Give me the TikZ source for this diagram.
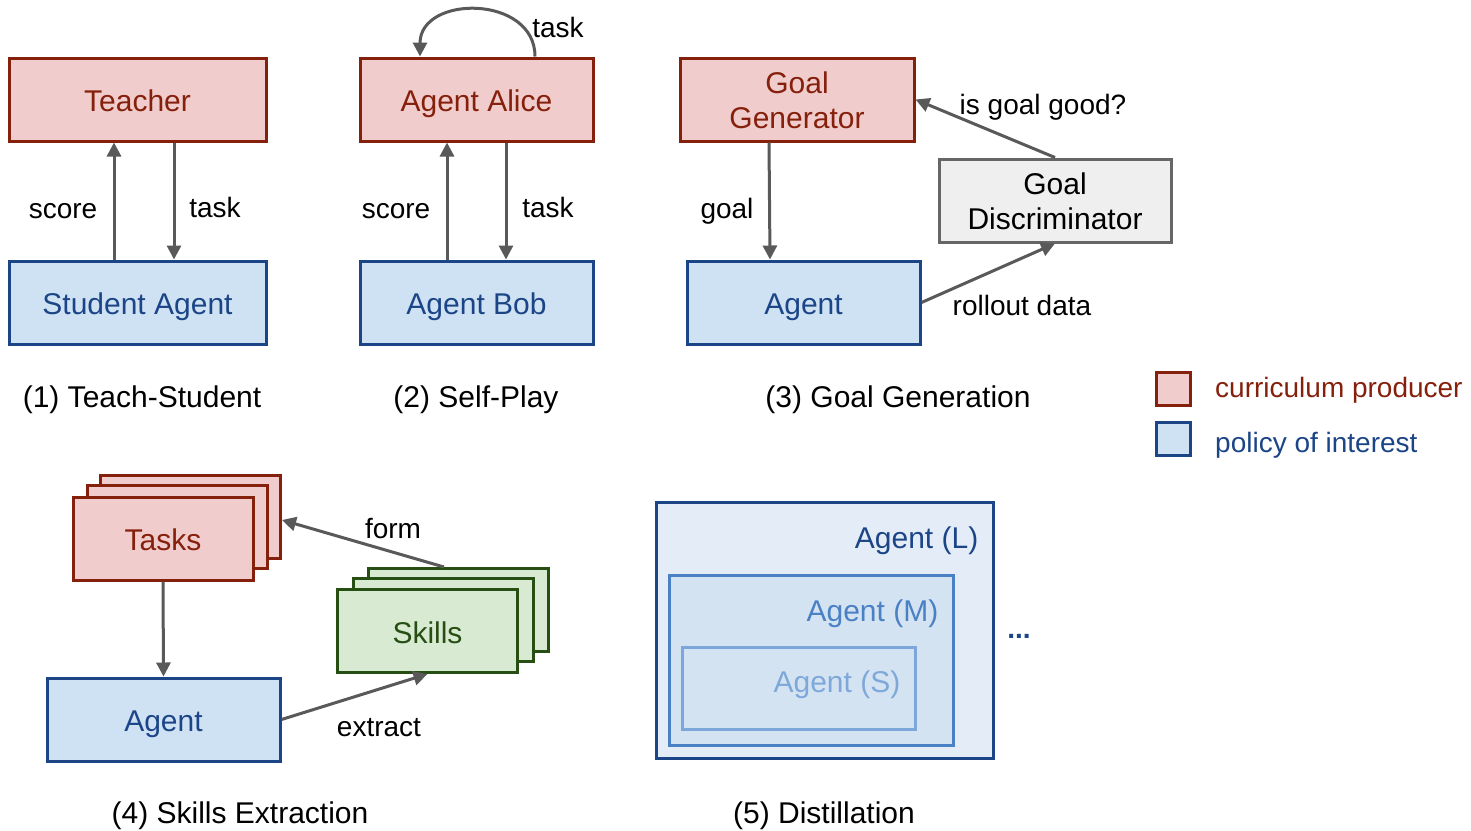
\documentclass[tikz,border=0pt]{standalone}
\usepackage{fontspec}
\setmainfont{Liberation Sans}
\usetikzlibrary{arrows.meta}

\definecolor{redline}{HTML}{85200C}
\definecolor{redfill}{HTML}{F0CDCC}
\definecolor{blueline}{HTML}{1C4587}
\definecolor{bluefill}{HTML}{CFE2F3}
\definecolor{grayline}{HTML}{666666}
\definecolor{grayfill}{HTML}{EFEFEF}
\definecolor{greenline}{HTML}{274E13}
\definecolor{greenfill}{HTML}{D9EAD3}
\definecolor{arrowgray}{HTML}{595959}
\definecolor{lfill}{HTML}{E4EDF7}
\definecolor{mline}{HTML}{4A80C4}
\definecolor{mfill}{HTML}{D4E3F2}
\definecolor{sline}{HTML}{7DA7DB}
\definecolor{stext}{HTML}{7FA8DA}

\begin{document}
\begin{tikzpicture}[x=1pt,y=-1pt,
  box/.style={draw, line width=3pt, inner sep=0pt, minimum height=83pt,
    font=\fontsize{30}{35}\selectfont, align=center,
    text height=24pt, text depth=0pt},
  twoline/.style={text height=58pt, text depth=0pt},
  redbox/.style={box, fill=redfill, draw=redline, text=redline},
  bluebox/.style={box, fill=bluefill, draw=blueline, text=blueline},
  graybox/.style={box, fill=grayfill, draw=grayline, text=black},
  greenbox/.style={box, fill=greenfill, draw=greenline, text=greenline},
  arr/.style={draw=arrowgray, line width=3pt, -{Triangle[length=14pt,width=14pt]}},
  lbl/.style={font=\fontsize{28}{34}\selectfont, inner sep=0pt,
    text height=20pt, text depth=0pt},
  captiontext/.style={font=\fontsize{30}{36}\selectfont, inner sep=0pt,
    text height=20pt, text depth=0pt},
  nest/.style={draw, line width=3pt, inner sep=0pt},
  nesttext/.style={font=\fontsize{30}{36}\selectfont, inner sep=0pt, anchor=east,
    text height=24pt, text depth=0pt}
]
\useasboundingbox (0,0) rectangle (1471,830);

% (1) Teacher-Student
\node[redbox, minimum width=257pt] (teacher) at (137.5,99.5) {Teacher};
\node[bluebox, minimum width=257pt] (student) at (137.5,302.5) {Student Agent};
\draw[arr] ([xshift=-23.5pt]student.north) -- ([xshift=-23.5pt]teacher.south);
\draw[arr] ([xshift=36.5pt]teacher.south) -- ([xshift=36.5pt]student.north);
\node[lbl] (score1) at (63,208) {score};
\node[lbl] (task1) at (215,207) {task};
\node[captiontext] (cap1) at (142,397) {(1) Teach-Student};

% (2) Self-Play
\node[redbox, minimum width=233pt] (alice) at (476.5,99.5) {Agent Alice};
\node[bluebox, minimum width=233pt] (bob) at (476.5,302.5) {Agent Bob};
\draw[arr] ([xshift=-29.5pt]bob.north) -- ([xshift=-29.5pt]alice.south);
\draw[arr] ([xshift=29.5pt]alice.south) -- ([xshift=29.5pt]bob.north);
\draw[arr] ([xshift=58.5pt]alice.north) .. controls +(0,-62) and +(0,-62) .. ([xshift=-56.5pt]alice.north);
\node[lbl] (score2) at (396,208) {score};
\node[lbl] (task2) at (548,207) {task};
\node[lbl] (task2b) at (558,27) {task};
\node[captiontext] (cap2) at (476,397) {(2) Self-Play};

% (3) Goal Generation
\node[redbox, twoline, minimum width=234pt] (gen) at (797,99.5) {Goal\\Generator};
\node[bluebox, minimum width=233pt] (agent3) at (803.5,302.5) {Agent};
\node[graybox, twoline, minimum width=232pt] (disc) at (1055,200.5) {Goal\\Discriminator};
\draw[arr] ([xshift=-28pt]gen.south) -- ([xshift=-33.5pt]agent3.north);
\draw[arr] (disc.north) -- (gen.east);
\draw[arr] (agent3.east) -- (disc.south);
\node[lbl] (goal) at (727,208) {goal};
\node[lbl] (good) at (1043,104) {is goal good?};
\node[lbl] (rollout) at (1022,305) {rollout data};
\node[captiontext] (cap3) at (898,397) {(3) Goal Generation};

% legend
\node[box, fill=redfill, draw=redline, minimum width=34pt, minimum height=33pt] (legred) at (1173,388.5) {};
\node[box, fill=bluefill, draw=blueline, minimum width=34pt, minimum height=33pt] (legblue) at (1173,439) {};
\node[lbl, anchor=west, text=redline] (legredtext) at (1215,387) {curriculum producer};
\node[lbl, anchor=west, text=blueline] (legbluetext) at (1215,442) {policy of interest};

% (4) Skills Extraction
\node[redbox, minimum width=180pt] (tasksC) at (190.5,516.5) {};
\node[redbox, minimum width=180pt] (tasksB) at (177.5,527) {};
\node[redbox, minimum width=180pt] (tasks) at (163,538.5) {Tasks};
\node[greenbox, minimum width=180pt] (skillsC) at (458.5,610) {};
\node[greenbox, minimum width=180pt] (skillsB) at (443,620) {};
\node[greenbox, minimum width=180pt] (skills) at (427.5,631) {Skills};
\node[bluebox, minimum width=233pt] (agent4) at (163.5,719.5) {Agent};
\draw[arr] (tasks.south) -- (agent4.north);
\draw[arr] ([xshift=-14.5pt]skillsC.north) -- ([yshift=-3.5pt]tasksC.east);
\draw[arr] (agent4.east) -- (skills.south);
\node[lbl] (form) at (393,528) {form};
\node[lbl] (extract) at (379,726) {extract};
\node[captiontext] (cap4) at (240,813) {(4) Skills Extraction};

% (5) Distillation
\node[nest, fill=lfill, draw=blueline, minimum width=337pt, minimum height=256pt] (large) at (824.5,630) {};
\node[nest, fill=mfill, draw=mline, minimum width=284pt, minimum height=170pt] (medium) at (811,660) {};
\node[nest, fill=mfill, draw=sline, minimum width=233pt, minimum height=82pt] (small) at (798.5,688) {};
\node[nesttext, text=blueline] (largetext) at ([xshift=-16pt,yshift=-36pt]large.north east) {Agent (L)};
\node[nesttext, text=mline] (mediumtext) at ([xshift=-16pt,yshift=-36pt]medium.north east) {Agent (M)};
\node[nesttext, text=stext] (smalltext) at ([xshift=-16pt,yshift=-35pt]small.north east) {Agent (S)};
\node[lbl, text=blueline, font=\fontsize{28}{34}\selectfont\bfseries] (dots) at (1019,628) {...};
\node[captiontext] (cap5) at (824,813) {(5) Distillation};
\end{tikzpicture}
\end{document}
